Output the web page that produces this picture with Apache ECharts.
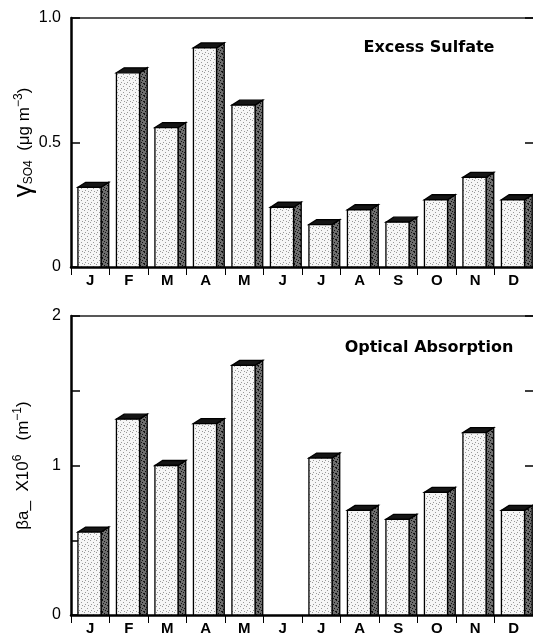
<!DOCTYPE html>
<html>
<head>
<meta charset="utf-8">
<script src="https://cdn.jsdelivr.net/npm/echarts@6/dist/echarts.min.js"></script>
<style>
  html, body { margin: 0; padding: 0; background: #fff; }
  #chart { width: 533px; height: 636px; }
</style>
</head>
<body>
<div id="chart"></div>
<script>
const months = ["J", "F", "M", "A", "M", "J", "J", "A", "S", "O", "N", "D"];
// excess sulfate, µg m-3
const sulfate = [0.32, 0.78, 0.56, 0.88, 0.65, 0.24, 0.17, 0.23, 0.18, 0.27, 0.36, 0.27];
// optical absorption x10^6, m-1 (no June value)
const absorption = [0.555, 1.31, 1.0, 1.28, 1.67, null, 1.05, 0.7, 0.64, 0.82, 1.22, 0.7];

const FONT = "Liberation Sans";

// small stipple textures, fixed dot layout
function stipple(base, dot, dots) {
  const c = document.createElement("canvas");
  c.width = 6; c.height = 6;
  const g = c.getContext("2d");
  g.fillStyle = base; g.fillRect(0, 0, 6, 6);
  g.fillStyle = dot;
  dots.forEach(([x, y]) => g.fillRect(x, y, 1, 1));
  return { image: c, repeat: "repeat" };
}
const frontFill = stipple("#f6f6f6", "#999", [[0, 0], [3, 2], [1, 4], [4, 5]]);
const sideFill = stipple("#6e6e6e", "#111", [[0, 0], [2, 1], [4, 2], [1, 3], [3, 4], [5, 5], [0, 5]]);

function bar3d(params, api) {
  const v = api.value(1);
  const top = api.coord([api.value(0), v]);
  const base = api.coord([api.value(0), 0]);
  const bw = api.size([1, 0])[0];
  const l = top[0] - bw / 2 + bw * 0.18;
  const r = l + bw * 0.6;
  const dx = bw * 0.2, dy = 5;
  const line = { stroke: "#000", lineWidth: 1.3 };
  return {
    type: "group",
    children: [
      { type: "polygon", shape: { points: [[r, top[1]], [r + dx, top[1] - dy], [r + dx, base[1]], [r, base[1]]] },
        style: { fill: sideFill, ...line } },
      { type: "polygon", shape: { points: [[l, top[1]], [l + dx, top[1] - dy], [r + dx, top[1] - dy], [r, top[1]]] },
        style: { fill: "#151515", ...line } },
      { type: "rect", shape: { x: l, y: top[1], width: r - l, height: base[1] - top[1] },
        style: { fill: frontFill, ...line } }
    ]
  };
}

function toData(arr) {
  return arr.map((v, i) => [i, v]).filter((d) => d[1] != null);
}

const bottomAxis = (gi) => ({
  type: "category", gridIndex: gi, data: months, position: "bottom",
  axisLine: { lineStyle: { color: "#000", width: 2.5 } },
  axisTick: { show: true, length: 8, lineStyle: { color: "#000", width: 1 } },
  axisLabel: { color: "#000", fontFamily: FONT, fontWeight: "bold", fontSize: 15, margin: 6 }
});
const topAxis = (gi) => ({
  type: "category", gridIndex: gi, data: months, position: "top",
  axisLine: { show: true, onZero: false, lineStyle: { color: "#222", width: 1.5 } },
  axisTick: { show: false }, axisLabel: { show: false }
});
const rightAxis = (gi, max) => ({
  type: "value", gridIndex: gi, position: "right", min: 0, max: max, interval: 0.5,
  axisLine: { show: false }, splitLine: { show: false },
  axisTick: { show: true, inside: true, length: 8, lineStyle: { color: "#000", width: 1.5 } },
  axisLabel: { show: false }
});
const leftAxis = (gi, max, fmt, name, gap) => ({
  type: "value", gridIndex: gi, position: "left", min: 0, max: max, interval: 0.5,
  axisLine: { show: true, lineStyle: { color: "#000", width: 2.5 } },
  splitLine: { show: false },
  axisTick: { show: true, inside: true, length: 9, lineStyle: { color: "#000", width: 1.5 } },
  axisLabel: { color: "#000", fontFamily: FONT, fontSize: 16, margin: 10, formatter: fmt },
  name: name, nameLocation: "middle", nameRotate: 90, nameGap: gap, nameMoveOverlap: false,
  nameTextStyle: {
    color: "#000", fontFamily: FONT, fontSize: 17, lineHeight: 26,
    rich: {
      g: { fontFamily: FONT, fontSize: 26, lineHeight: 26, verticalAlign: "middle", color: "#000" },
      n: { fontFamily: FONT, fontSize: 17, lineHeight: 26, verticalAlign: "middle", color: "#000" },
      s: { fontFamily: FONT, fontSize: 12, lineHeight: 26, verticalAlign: "bottom", color: "#000", padding: [0, 0, 2, 0] },
      p: { fontFamily: FONT, fontSize: 12, lineHeight: 26, verticalAlign: "top", color: "#000", padding: [2, 0, 0, 0] }
    }
  }
});

const chart = echarts.init(document.getElementById("chart"), null, { renderer: "canvas" });
chart.setOption({
  animation: false,
  backgroundColor: "#fff",
  title: [
    { text: "Excess Sulfate", left: 424, top: 35, textAlign: "center",
      textStyle: { fontFamily: "DejaVu Sans", fontWeight: "bold", fontSize: 16, color: "#000" } },
    { text: "Optical Absorption", left: 424, top: 335, textAlign: "center",
      textStyle: { fontFamily: "DejaVu Sans", fontWeight: "bold", fontSize: 16, color: "#000" } }
  ],
  grid: [
    { left: 71, right: 0, top: 18, bottom: 369, outerBoundsMode: "none" },
    { left: 71, right: 0, top: 316, bottom: 21, outerBoundsMode: "none" }
  ],
  xAxis: [bottomAxis(0), topAxis(0), bottomAxis(1), topAxis(1)],
  yAxis: [
    leftAxis(0, 1, (v) => (v === 0 ? "0" : v.toFixed(1)), "{g|γ}{s|SO4} {n| (μg m}{p|−3}{n|)}", 34),
    rightAxis(0, 1),
    leftAxis(1, 2, (v) => (v % 1 === 0 ? String(v) : ""), "{n|βa_  X10}{p|6}{n|   (m}{p|−1}{n|)}", 35),
    rightAxis(1, 2)
  ],
  series: [
    { type: "custom", xAxisIndex: 0, yAxisIndex: 0, renderItem: bar3d, data: toData(sulfate), clip: false },
    { type: "custom", xAxisIndex: 2, yAxisIndex: 2, renderItem: bar3d, data: toData(absorption), clip: false }
  ]
});
</script>
</body>
</html>
